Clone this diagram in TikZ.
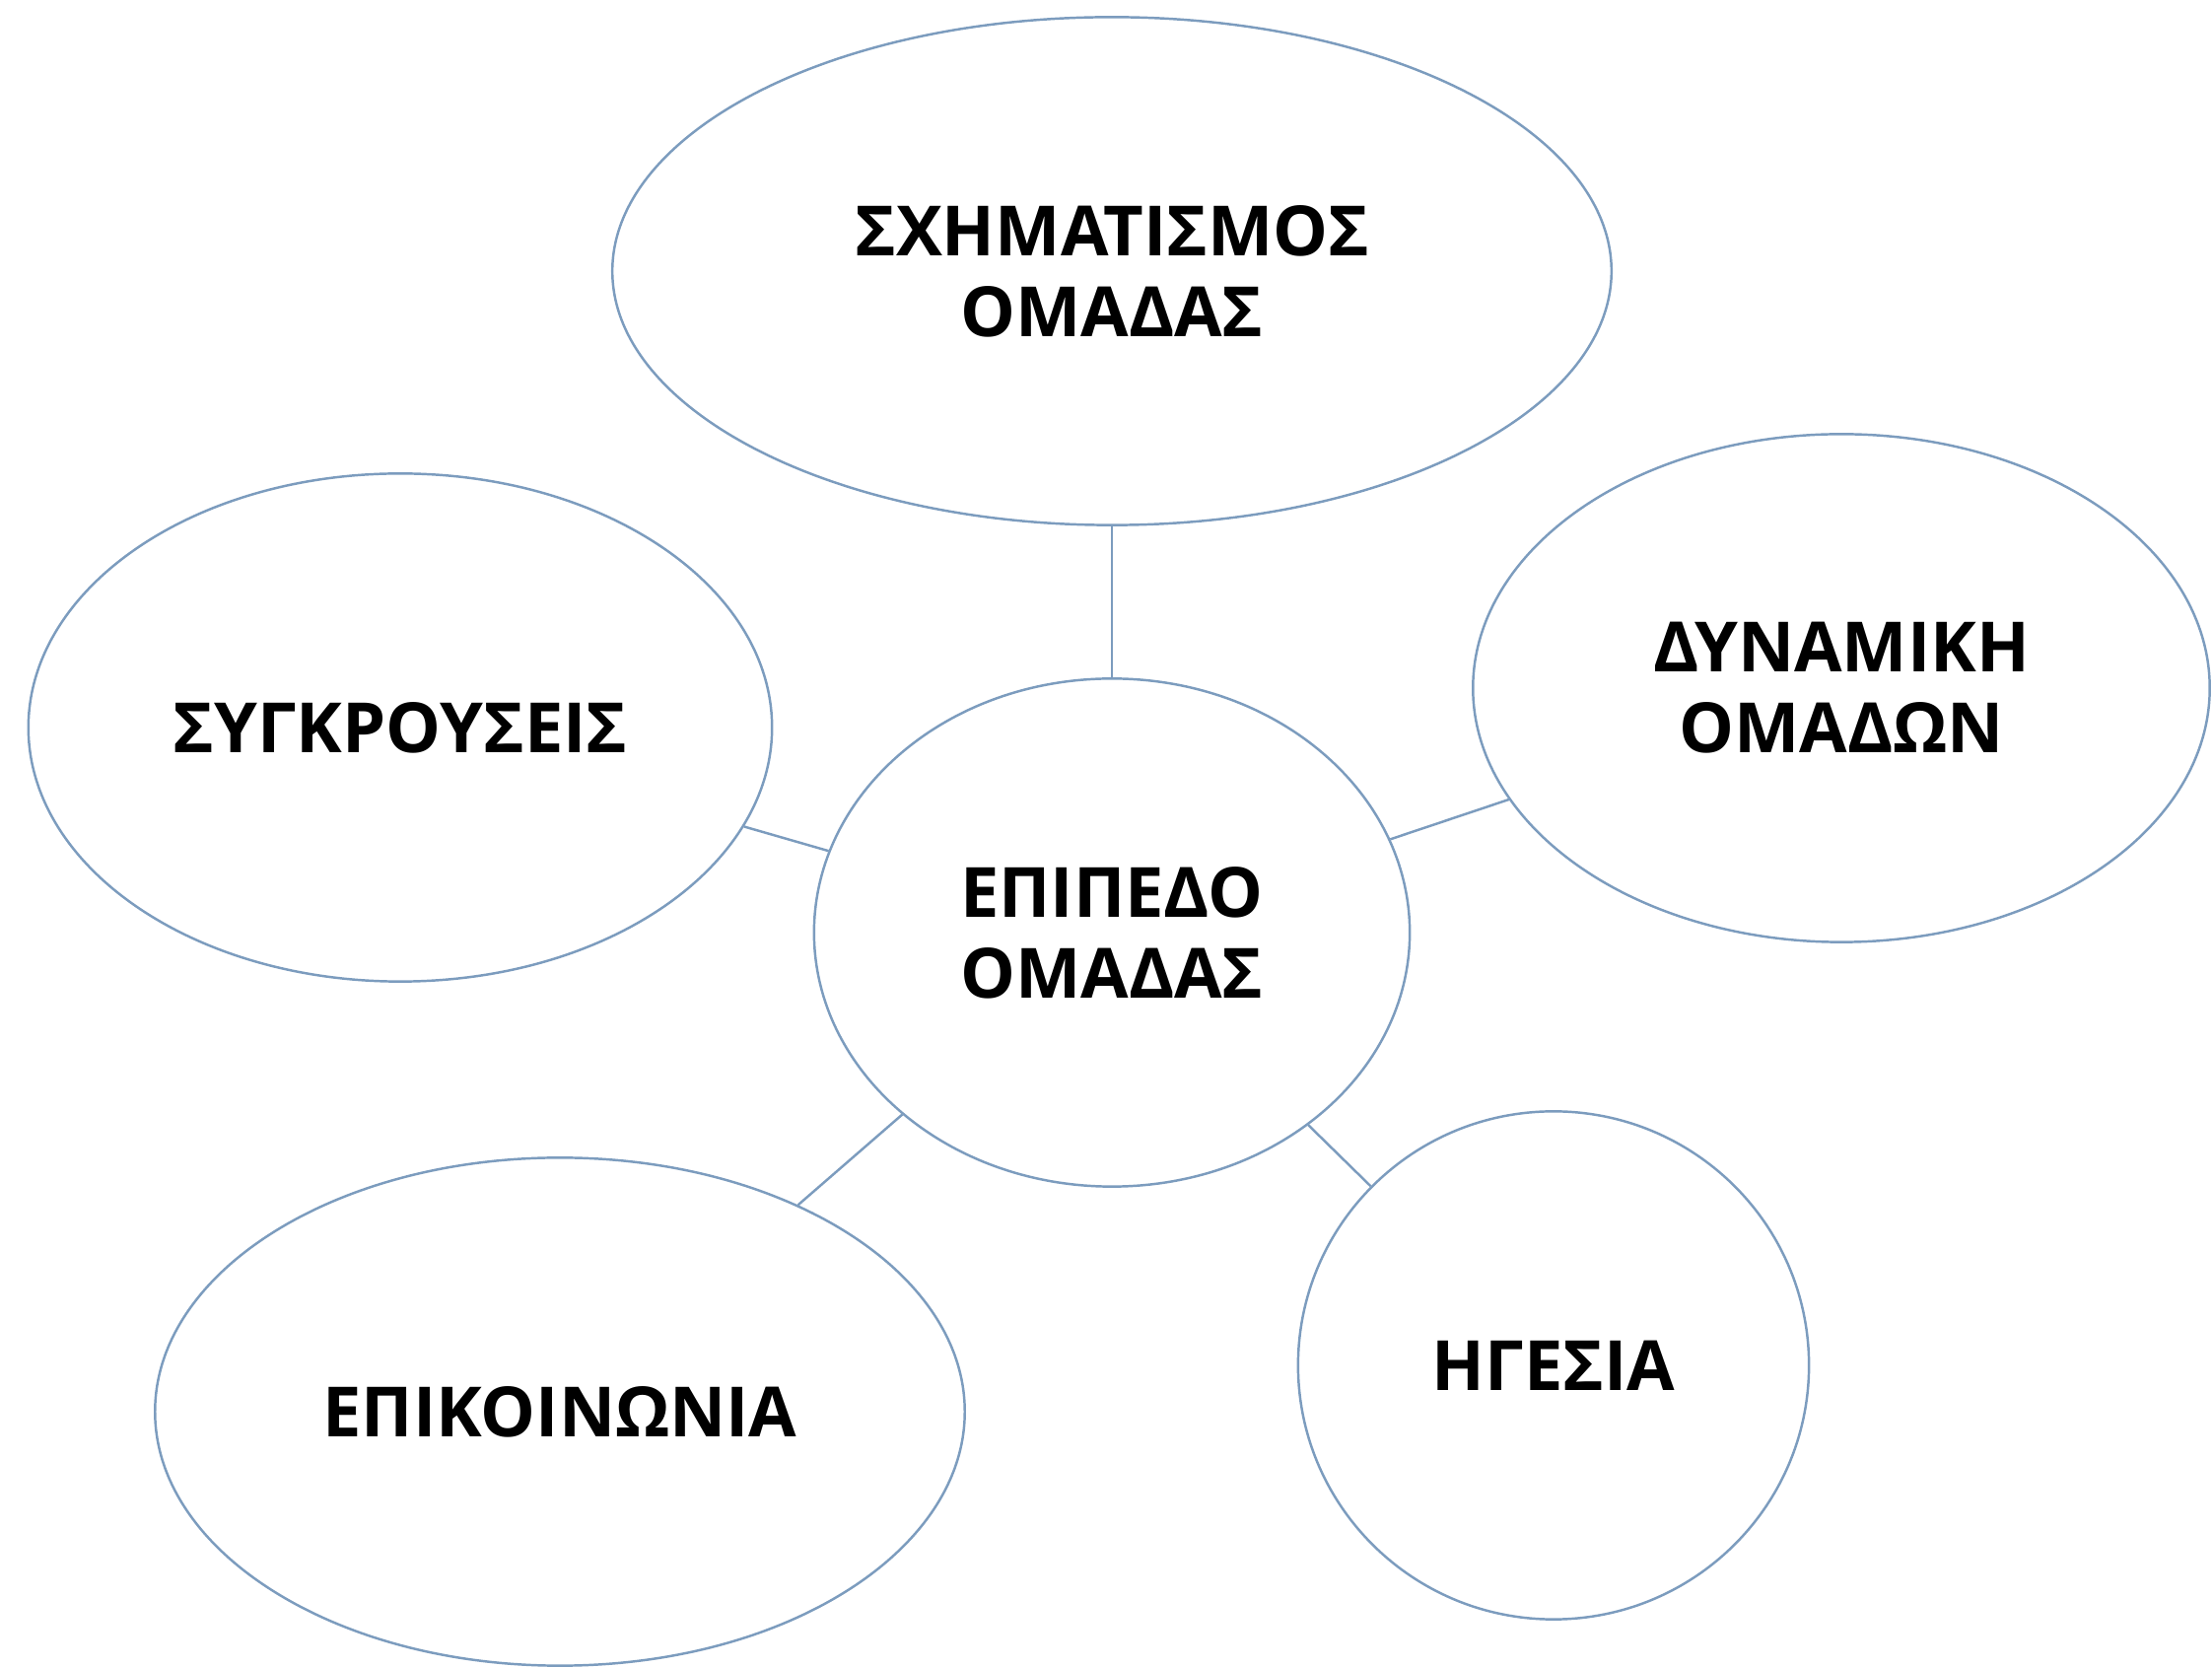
\documentclass[tikz,border=0pt]{standalone}
\usepackage{fontspec}
\setmainfont{Open Sans}
\usetikzlibrary{shapes.geometric}
\definecolor{rim}{RGB}{124,156,190}
\begin{document}
\begin{tikzpicture}[x=0.01cm,y=-0.01cm,
  bubble/.style={ellipse,draw=rim,line width=0.7pt,fill=white,inner sep=0pt,
    align=center,font=\bfseries\fontsize{20}{23.3}\selectfont},
  link/.style={draw=rim,line width=0.7pt}]
\useasboundingbox (0,0) rectangle (2244,1692);
\node[bubble,minimum width=10.13cm,minimum height=5.15cm] (form) at (1128,275) {ΣΧΗΜΑΤΙΣΜΟΣ\\ΟΜΑΔΑΣ};
\node[bubble,minimum width=6.04cm,minimum height=5.15cm] (core) at (1128,946) {ΕΠΙΠΕΔΟ\\ΟΜΑΔΑΣ};
\node[bubble,minimum width=7.54cm,minimum height=5.15cm] (conf) at (406,738) {ΣΥΓΚΡΟΥΣΕΙΣ};
\node[bubble,minimum width=7.47cm,minimum height=5.15cm] (dyn) at (1868,698) {ΔΥΝΑΜΙΚΗ\\ΟΜΑΔΩΝ};
\node[bubble,minimum width=8.21cm,minimum height=5.15cm] (comm) at (568,1432) {ΕΠΙΚΟΙΝΩΝΙΑ};
\node[bubble,minimum width=5.18cm,minimum height=5.15cm] (lead) at (1576,1385) {ΗΓΕΣΙΑ};
\path[link] (core) -- (form);
\path[link] (core) -- (conf);
\path[link] (core) -- (dyn);
\path[link] (core) -- (comm);
\path[link] (core) -- (lead);
\end{tikzpicture}
\end{document}
